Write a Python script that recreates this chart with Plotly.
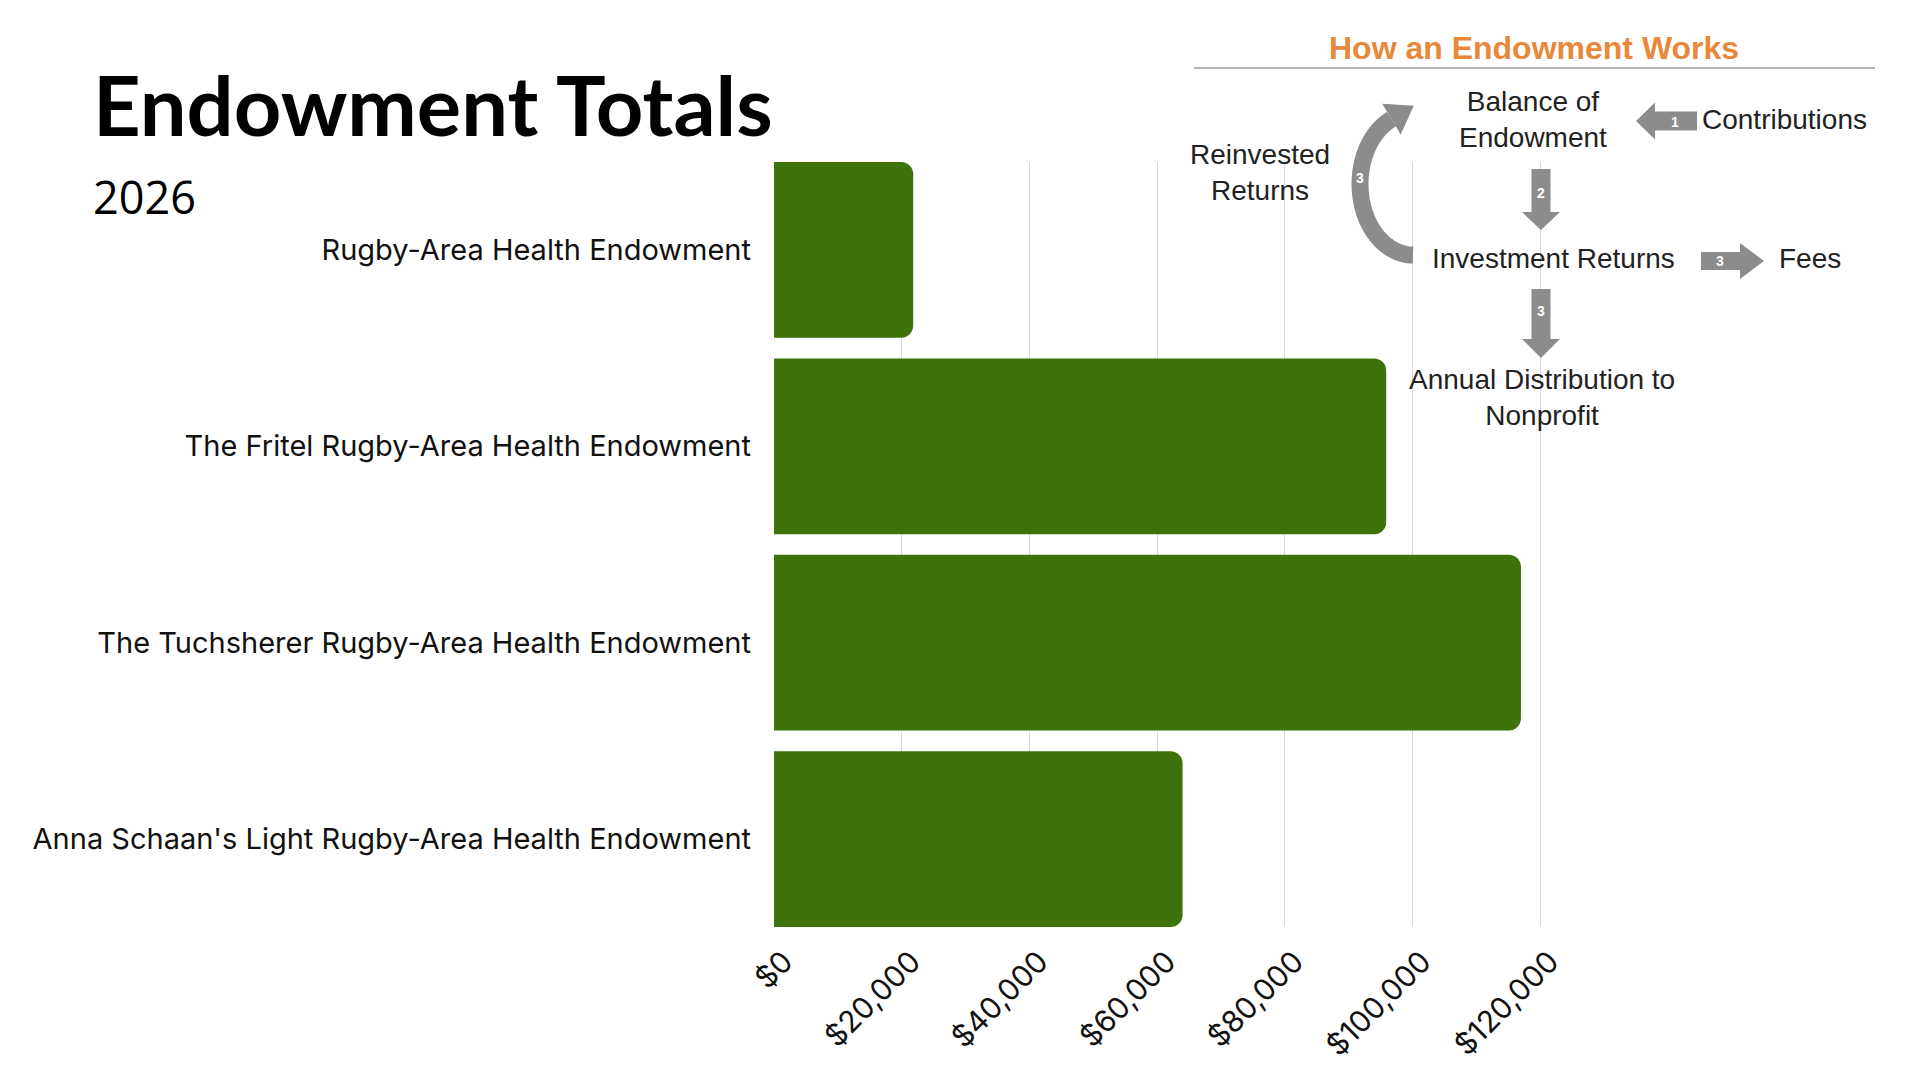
import numpy as np
import plotly.graph_objects as go

# data ==========================================================================
funds = [
    "Rugby-Area Health Endowment",
    "The Fritel Rugby-Area Health Endowment",
    "The Tuchsherer Rugby-Area Health Endowment",
    "Anna Schaan's Light Rugby-Area Health Endowment",
]
totals = [21800, 95900, 117000, 64000]
tick_vals = [0, 20000, 40000, 60000, 80000, 100000, 120000]
tick_text = ["$0", "$20,000", "$40,000", "$60,000", "$80,000", "$100,000", "$120,000"]

# page geometry (pixels) ==========================================================
W, H = 1920, 1080
OFF = 8                      # browser body margin
PW, PH = 798, 765            # plot area size
L, T = 774 - OFF, 162 - OFF  # plot area top-left inside the figure
R = W - L - PW
B = H - T - PH
GAP = 0.105

GREEN = "#3E730B"
GREY = "#8C8C8C"
ORANGE = "#E8883A"


# page pixel -> paper coordinate
def px(x):
    return (x - OFF - L) / PW


def py(y):
    return (H - B - (y - OFF)) / PH


def path_of(points, close=True):
    s = "M " + " L ".join(f"{px(x):.5f},{py(y):.5f}" for x, y in points)
    return s + (" Z" if close else "")


fig = go.Figure()
fig.add_trace(go.Bar(
    x=totals,
    y=funds,
    orientation="h",
    marker=dict(color=GREEN, line=dict(width=0)),
    hoverinfo="skip",
))

# diagram: "How an Endowment Works" ==============================================
shapes = []
annos = []


def add_text(text, x, y, size=28, color="#222222", bold=False):
    annos.append(dict(
        text=f"<b>{text}</b>" if bold else text,
        x=px(x), y=py(y), xref="paper", yref="paper",
        xanchor="center", yanchor="middle", showarrow=False,
        font=dict(family="Liberation Sans, Arial", size=size, color=color),
    ))


def block_arrow_down(cx, top, hs, tip, sw=9.5, hw=19):
    pts = [(cx - sw, top), (cx + sw, top), (cx + sw, hs), (cx + hw, hs),
           (cx, tip), (cx - hw, hs), (cx - sw, hs)]
    shapes.append(dict(type="path", path=path_of(pts), xref="paper", yref="paper",
                       fillcolor=GREY, line=dict(width=0)))


def block_arrow_h(cy, tail, hs, tip, sw=9.5, hw=18.5):
    pts = [(tail, cy - sw), (hs, cy - sw), (hs, cy - hw), (tip, cy),
           (hs, cy + hw), (hs, cy + sw), (tail, cy + sw)]
    shapes.append(dict(type="path", path=path_of(pts), xref="paper", yref="paper",
                       fillcolor=GREY, line=dict(width=0)))


# title + rule
add_text("How an Endowment Works", 1534, 48, size=32, color=ORANGE, bold=True)
shapes.append(dict(type="line", xref="paper", yref="paper",
                   x0=px(1194), x1=px(1875), y0=py(68), y1=py(68),
                   line=dict(color="#B4B4B4", width=2)))

add_text("Balance of<br>Endowment", 1533, 120)
add_text("Contributions", 1784, 120)
add_text("Reinvested<br>Returns", 1260, 173)
add_text("Investment Returns", 1553, 258)
add_text("Fees", 1810, 258)
add_text("Annual Distribution to<br>Nonprofit", 1542, 397)

# straight arrows
block_arrow_h(121, 1697, 1655, 1636)
add_text("1", 1675, 122, size=14, color="white", bold=True)
block_arrow_down(1541, 169, 212, 230)
add_text("2", 1541, 193, size=14, color="white", bold=True)
block_arrow_h(261, 1701, 1740, 1764, sw=9, hw=18)
add_text("3", 1720, 261, size=14, color="white", bold=True)
block_arrow_down(1541, 289, 339, 358)
add_text("3", 1541, 311, size=14, color="white", bold=True)

# curved arrow (reinvested returns)
cx, cy, rx, ry = 1413, 184, 53, 71
t = np.radians(np.linspace(90, 246, 60))
arc = [(cx + rx * np.cos(a), cy + ry * np.sin(a)) for a in t]
shapes.append(dict(type="path", path=path_of(arc, close=False), xref="paper", yref="paper",
                   line=dict(color=GREY, width=17)))
te = t[-1]
ex, ey = arc[-1]
dx, dy = -rx * np.sin(te), ry * np.cos(te)
n = np.hypot(dx, dy)
dx, dy = dx / n, dy / n
hw, hl = 18, 26
head = [(ex - dy * hw, ey + dx * hw), (ex + dx * hl, ey + dy * hl), (ex + dy * hw, ey - dx * hw)]
shapes.append(dict(type="path", path=path_of(head), xref="paper", yref="paper",
                   fillcolor=GREY, line=dict(width=0)))
add_text("3", 1360, 178, size=14, color="white", bold=True)

# page titles
annos.append(dict(text="<b>Endowment Totals</b>", x=px(91), y=py(104), xref="paper", yref="paper",
                  xanchor="left", yanchor="middle", showarrow=False,
                  font=dict(family="Lato", size=83, color="#000000", weight=900)))
annos.append(dict(text="2026", x=px(91), y=py(197), xref="paper", yref="paper",
                  xanchor="left", yanchor="middle", showarrow=False,
                  font=dict(family="Open Sans", size=45, color="#000000")))

fig.update_layout(
    width=W, height=H,
    margin=dict(l=L, r=R, t=T, b=B, autoexpand=False),
    paper_bgcolor="white",
    plot_bgcolor="white",
    showlegend=False,
    bargap=GAP,
    barcornerradius=12,
    shapes=shapes,
    annotations=annos,
    xaxis=dict(
        range=[0, 125000],
        tickvals=tick_vals,
        ticktext=tick_text,
        tickangle=-45,
        showgrid=True,
        gridcolor="#D9D9D9",
        gridwidth=1,
        zeroline=False,
        showline=False,
        ticks="",
        ticklabelstandoff=10,
        ticklabelshift=10,
        tickfont=dict(family="Inter", size=30, color="#111111"),
    ),
    yaxis=dict(
        range=[len(funds) - 0.5 - GAP / 2, -0.5 + GAP / 2],
        showgrid=False,
        zeroline=False,
        showline=False,
        ticks="",
        ticklabelstandoff=22,
        tickfont=dict(family="Inter", size=29, color="#111111"),
    ),
)

fig.write_html("out.html")
